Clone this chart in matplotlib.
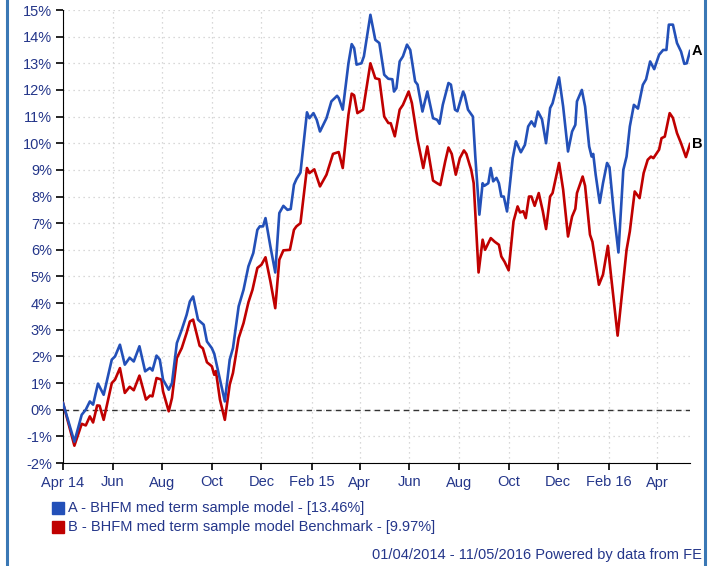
import numpy as np
import pandas as pd
import matplotlib
matplotlib.use('Agg')
import matplotlib.pyplot as plt
import matplotlib.dates as mdates
from matplotlib.patches import Rectangle

plt.rcParams['font.family'] = ['Liberation Sans', 'DejaVu Sans']

start = pd.Timestamp('2014-04-01')
end = pd.Timestamp('2016-05-11')

# days since 01/04/2014 and cumulative return (%)
a_days = [0, 14, 23, 28, 33, 37, 43, 50, 60, 64, 70, 76, 82, 87, 94, 101, 107, 110, 115, 119,
          123, 130, 134, 140, 146, 152, 156, 160, 166, 173, 177, 183, 186, 193, 199, 205, 209, 216,
          222, 228, 234, 239, 242, 246, 249, 255, 261, 266, 271, 276, 280, 284, 287, 292, 300, 303,
          308, 312, 316, 324, 330, 337, 339, 344, 351, 355, 358, 361, 367, 370, 378, 384, 389, 395,
          400, 405, 407, 410, 414, 418, 423, 427, 433, 436, 442, 448, 455, 460, 463, 467, 474, 477,
          482, 485, 492, 494, 498, 504, 507, 512, 516, 518, 523, 526, 529, 533, 536, 539, 542, 546,
          553, 557, 563, 568, 572, 576, 580, 584, 589, 594, 599, 602, 610, 615, 621, 626, 630, 632,
          638, 642, 647, 650, 652, 655, 660, 664, 669, 672, 677, 683, 689, 693, 697, 702, 707, 713,
          717, 722, 727, 733, 738, 742, 745, 750, 755, 760, 764, 767, 771]
a_vals = [0.25, -1.2, -0.19, 0.0, 0.31, 0.19, 0.98, 0.56, 1.88, 2.0, 2.44, 1.69, 1.95, 1.81, 2.38,
          1.44, 1.57, 1.47, 2.03, 1.88, 1.13, 0.75, 1.0, 2.5, 3.0, 3.56, 4.06, 4.25, 3.38, 3.19,
          2.56, 2.31, 2.1, 1.13, 0.31, 1.88, 2.31, 3.88, 4.5, 5.38, 5.88, 6.75, 6.88, 6.88, 7.19,
          6.13, 5.15, 7.38, 7.65, 7.5, 7.53, 8.44, 8.65, 8.9, 11.16, 10.94, 11.13, 10.88, 10.44,
          10.94, 11.57, 11.78, 11.7, 11.26, 13.0, 13.72, 13.57, 12.95, 13.0, 13.26, 14.82, 13.88,
          13.76, 12.57, 12.42, 12.4, 11.94, 12.07, 13.07, 13.26, 13.7, 13.5, 12.32, 12.2, 11.19,
          11.94, 10.94, 10.88, 10.73, 11.44, 12.26, 12.2, 11.26, 11.2, 11.94, 11.8, 11.26, 11.0,
          9.5, 7.32, 8.5, 8.4, 8.5, 9.07, 8.57, 8.7, 8.5, 8.0, 8.0, 7.44, 9.44, 10.07, 9.66, 9.94,
          10.63, 10.82, 10.63, 11.19, 10.9, 10.0, 11.32, 11.5, 12.47, 11.38, 9.69, 10.44, 10.69,
          11.57, 12.0, 11.38, 9.88, 9.5, 9.6, 8.82, 7.76, 8.5, 9.26, 9.1, 7.5, 5.9, 9.0, 9.5,
          10.63, 11.44, 11.3, 12.19, 12.4, 13.07, 12.78, 13.32, 13.5, 13.5, 14.45, 14.45, 13.76,
          13.44, 12.98, 13.0, 13.46]

b_days = [0, 14, 23, 28, 33, 37, 42, 45, 50, 60, 64, 70, 76, 82, 87, 94, 102, 107, 110, 115, 121,
          123, 130, 134, 140, 146, 152, 156, 160, 168, 172, 177, 183, 186, 188, 193, 199, 205, 209,
          216, 222, 228, 233, 239, 244, 249, 255, 261, 266, 271, 279, 284, 287, 292, 300, 303, 309,
          316, 324, 332, 339, 344, 351, 355, 358, 362, 369, 378, 384, 389, 395, 400, 403, 408, 414,
          418, 425, 429, 436, 443, 448, 455, 460, 464, 470, 474, 478, 483, 488, 493, 496, 500, 502,
          505, 511, 516, 519, 526, 531, 536, 539, 543, 548, 554, 559, 562, 566, 569, 573, 576, 580,
          585, 590, 594, 599, 602, 610, 615, 621, 626, 630, 632, 639, 642, 648, 651, 659, 664, 670,
          674, 682, 687, 693, 697, 703, 709, 714, 719, 723, 726, 733, 736, 740, 746, 750, 755, 760,
          766, 771]
b_vals = [0.25, -1.35, -0.53, -0.59, -0.25, -0.48, 0.16, 0.15, -0.38, 1.0, 1.13, 1.56, 0.63, 0.86,
          0.73, 1.28, 0.38, 0.53, 0.5, 1.19, 1.13, 0.69, -0.06, 0.44, 1.94, 2.31, 2.88, 3.31, 3.38,
          2.4, 2.3, 1.78, 1.63, 1.31, 1.45, 0.38, -0.38, 0.94, 1.38, 2.69, 3.25, 4.03, 4.5, 5.32,
          5.44, 5.72, 4.82, 3.81, 5.63, 5.98, 6.0, 6.75, 6.88, 7.0, 9.07, 8.88, 9.02, 8.38, 8.82,
          9.6, 9.67, 9.07, 11.07, 11.86, 11.8, 11.13, 11.26, 13.0, 12.44, 12.4, 11.0, 10.76, 10.75,
          10.26, 11.26, 11.44, 11.94, 11.51, 10.13, 9.07, 9.88, 8.6, 8.5, 8.43, 9.32, 9.84, 9.6,
          8.82, 9.44, 9.73, 9.6, 9.19, 9.0, 8.5, 5.15, 6.38, 6.0, 6.44, 6.3, 6.19, 5.75, 5.55, 5.23,
          7.07, 7.63, 7.4, 7.45, 7.19, 8.0, 8.0, 7.65, 8.13, 7.45, 6.78, 8.0, 8.13, 9.26, 8.26, 6.5,
          7.25, 7.54, 8.13, 8.75, 8.4, 6.57, 6.3, 4.69, 5.07, 6.15, 5.0, 2.78, 4.25, 6.0, 6.69,
          8.19, 7.94, 8.88, 9.38, 9.5, 9.44, 9.76, 10.19, 10.25, 11.13, 10.95, 10.38, 10.0, 9.48,
          9.97]

tick_dates = ['2014-04-01', '2014-06-01', '2014-08-01', '2014-10-01', '2014-12-01', '2015-02-01',
              '2015-04-01', '2015-06-01', '2015-08-01', '2015-10-01', '2015-12-01', '2016-02-01',
              '2016-04-01']
tick_labels = ['Apr 14', 'Jun', 'Aug', 'Oct', 'Dec', 'Feb 15', 'Apr', 'Jun', 'Aug', 'Oct',
               'Dec', 'Feb 16', 'Apr']

name_a = 'A - BHFM med term sample model - [13.46%]'
name_b = 'B - BHFM med term sample model Benchmark - [9.97%]'
footer = '01/04/2014 - 11/05/2016 Powered by data from FE'

blue = '#2350b8'
red = '#c00000'
txt = '#24368a'

a_x = start + pd.to_timedelta(a_days, unit='D')
b_x = start + pd.to_timedelta(b_days, unit='D')

fig = plt.figure(figsize=(7.16, 5.66), dpi=100)
ax = fig.add_axes([63 / 716, 1 - 463 / 566, 627 / 716, 453 / 566])

ax.plot(b_x, b_vals, color=red, lw=1.9, zorder=3)
ax.plot(a_x, a_vals, color=blue, lw=1.9, zorder=4)
ax.axhline(0, color='#333333', lw=1, ls=(0, (4, 3)), zorder=2)

ax.set_xlim(start, end)
ax.set_ylim(-2, 15)
ax.set_yticks(range(-2, 16))
ax.set_yticklabels([f'{v}%' for v in range(-2, 16)])
ax.set_xticks(pd.to_datetime(tick_dates))
ax.set_xticklabels(tick_labels)

ax.grid(True, color='#cccccc', ls=(0, (1, 3)), lw=0.9)
for s in ['top', 'right']:
    ax.spines[s].set_visible(False)
ax.spines['left'].set_color('black')
ax.spines['bottom'].set_color('black')
ax.tick_params(axis='both', labelsize=10.5, labelcolor=txt, length=5, width=1.2, direction='out')
ax.tick_params(axis='x', pad=4)
ax.tick_params(axis='y', pad=3)

ax.text(1.003, a_vals[-1], 'A', transform=ax.get_yaxis_transform(), fontsize=10.5,
        fontweight='bold', va='center', ha='left')
ax.text(1.003, b_vals[-1], 'B', transform=ax.get_yaxis_transform(), fontsize=10.5,
        fontweight='bold', va='center', ha='left')

# legend
for i, (name, col) in enumerate([(name_a, blue), (name_b, red)]):
    yc = 1 - (508 + i * 19) / 566
    fig.patches.append(Rectangle((52 / 716, yc - 6 / 566), 12 / 716, 12 / 566,
                                 transform=fig.transFigure, color=col, figure=fig))
    fig.text(68 / 716, yc, name, fontsize=10.5, color=txt, va='center', ha='left')

fig.text(702 / 716, 1 - 555 / 566, footer, fontsize=10.5, color=txt, va='center', ha='right')

# outer frame
fig.patches.append(Rectangle((7 / 716, -0.01), 698 / 716, 1.02, transform=fig.transFigure,
                             fill=False, edgecolor='#3a78b5', lw=2.2, figure=fig))

fig.savefig('out.png', dpi=100)
